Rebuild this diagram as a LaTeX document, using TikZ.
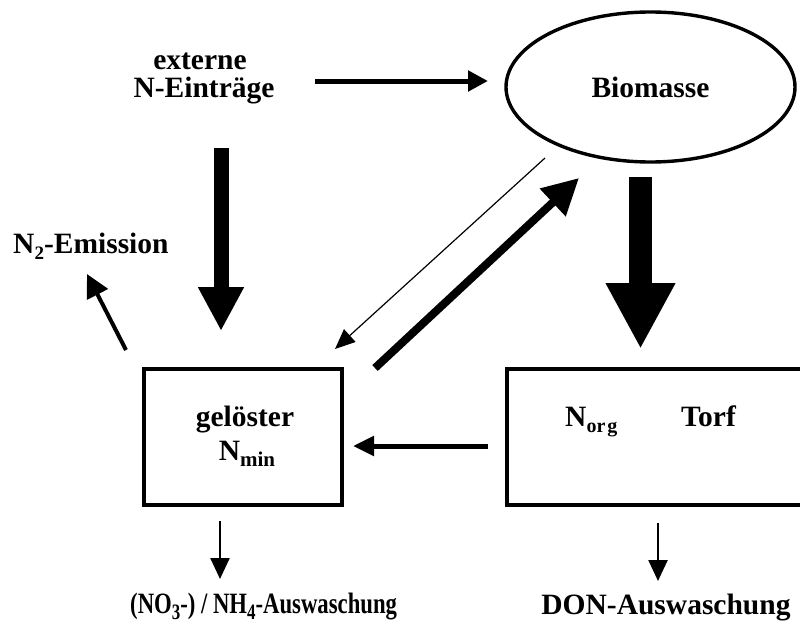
\documentclass[tikz,border=0pt]{standalone}
\usepackage{fontspec}
\usepackage{graphicx}
\setmainfont{Liberation Serif}
\usetikzlibrary{arrows.meta,calc,shapes.geometric}

% lowered, smaller index text (N_2, N_min, NO_3 ...)
\newcommand\idx[2][17]{\raisebox{-6pt}{\fontsize{#1}{#1}\selectfont #2}}

\begin{document}
\begin{tikzpicture}[x=1pt,y=-1pt,
  lbl/.style={inner sep=0pt, font=\fontsize{29.5}{32}\selectfont\bfseries},
  pool/.style={draw, line width=3.4pt, inner sep=0pt},
  flow/.style n args={3}{line width=#1, -{Triangle[length=#2, width=#3]}}
]
\clip (0,0) rectangle (800,626);
\fill[white] (0,0) rectangle (800,626);

% pools
\node[pool, ellipse, minimum width=289, minimum height=150, lbl] (bio) at (650.5,87) {Biomasse};
\node[pool, minimum width=198, minimum height=136] (gel) at (243,437) {};
\node[pool, minimum width=323, minimum height=136] (torf) at (668.5,437) {};

% texts
\node[lbl, anchor=base] (ext1) at (200,70) {externe};
\node[lbl, anchor=base] (ext2) at (204,97) {N-Einträge};
\node[lbl, anchor=base] (gel1) at (245,426) {gelöster};
\node[lbl, anchor=base] (gel2) at (247,460) {N\idx[21]{min}};
\node[lbl, anchor=base west] (norg) at (565,426) {N\idx[20]{or\kern2pt g}};
\node[lbl, anchor=base] (torf1) at (708.5,426) {Torf};
\node[lbl, anchor=base west] (emis) at (13,253) {N\idx[19]{2}-Emission};
\node[lbl, anchor=base west] (wash1) at (130,613)
  {\scalebox{0.77}[1]{(NO\idx[22]{3}-) / NH\idx[22]{4}-Auswaschung}};
\node[lbl, anchor=base] (wash2) at (666,614) {DON-Auswaschung};

% connector ends
\coordinate (extR) at (315,81);
\coordinate (bioL) at (488,81);
\coordinate (extD) at (221,148);
\coordinate (gelT) at (221,331);
\coordinate (bioD) at (640.5,177);
\coordinate (torfT) at (640.5,349);
\coordinate (bioSW) at (545,158);
\coordinate (gelNE) at (335,349);
\coordinate (gelNE2) at (375,368);
\coordinate (bioSW2) at (579,178);
\coordinate (torfW) at (488,446);
\coordinate (gelE) at (353,446);
\coordinate (gelNW) at (126,350);
\coordinate (emisS) at (87,274);
\coordinate (gelS) at (220,521);
\coordinate (wash1N) at (220,579);
\coordinate (torfS) at (658,523);
\coordinate (wash2N) at (658,581);

% flows
\draw[flow={5pt}{20pt}{20pt}] (extR) -- (bioL);
\draw[flow={15pt}{44pt}{43pt}] (extD) -- (gelT);
\draw[flow={23pt}{66pt}{65pt}] (bioD) -- (torfT);
\draw[flow={1.2pt}{20pt}{17pt}] (bioSW) -- (gelNE);
\draw[flow={8pt}{36pt}{36pt}] (gelNE2) -- (bioSW2);
\draw[flow={5pt}{21pt}{19pt}] (torfW) -- (gelE);
\draw[flow={4pt}{23pt}{23pt}] (gelNW) -- (emisS);
\draw[flow={2.5pt}{21pt}{19pt}] (gelS) -- (wash1N);
\draw[flow={2.5pt}{21pt}{19pt}] (torfS) -- (wash2N);
\end{tikzpicture}
\end{document}
